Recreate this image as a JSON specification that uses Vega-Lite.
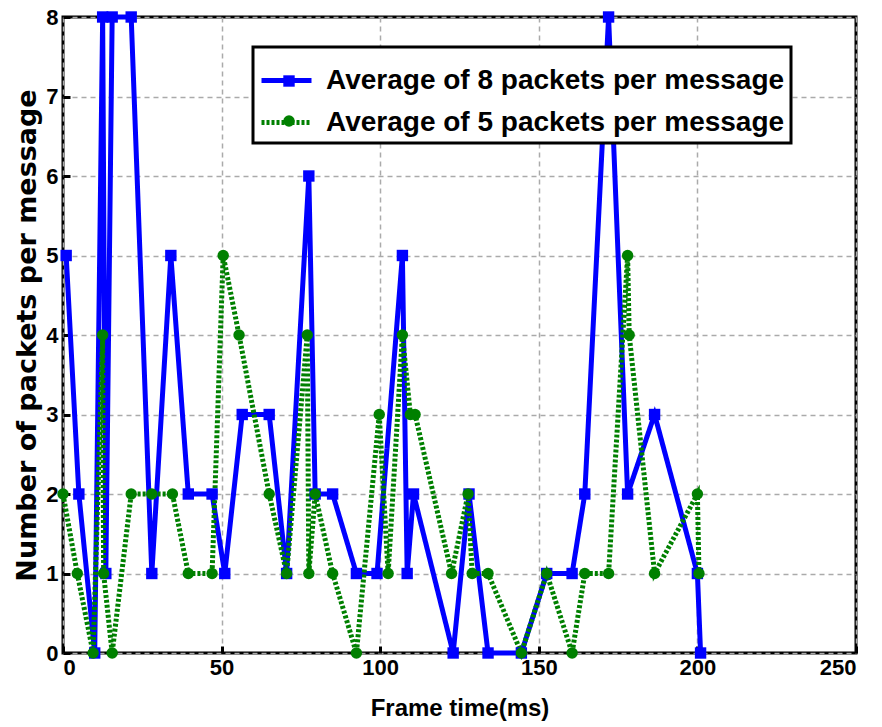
{
  "$schema": "https://vega.github.io/schema/vega-lite/v6.json",
  "autosize": "none",
  "width": 793,
  "height": 636,
  "padding": {"left": 63, "top": 17, "right": 26, "bottom": 74},
  "background": "white",
  "config": {
    "view": {"stroke": "black", "strokeWidth": 3},
    "axis": {
      "labelFont": "Liberation Sans",
      "labelFontWeight": "bold",
      "labelFontSize": 22,
      "labelColor": "black",
      "titleFont": "Liberation Sans",
      "titleFontWeight": "bold",
      "titleFontSize": 24,
      "titleColor": "black",
      "grid": true,
      "gridColor": "#aaaaaa",
      "gridDash": [5, 4],
      "gridWidth": 1.5,
      "domain": false,
      "tickColor": "black",
      "tickWidth": 3,
      "tickSize": -7
    }
  },
  "data": {
    "values": [
      {"t": 1, "n": 5, "series": "Average of 8 packets per message", "i": 1},
      {"t": 5, "n": 2, "series": "Average of 8 packets per message", "i": 2},
      {"t": 10, "n": 0, "series": "Average of 8 packets per message", "i": 3},
      {"t": 12.5, "n": 8, "series": "Average of 8 packets per message", "i": 4},
      {"t": 13.5, "n": 1, "series": "Average of 8 packets per message", "i": 5},
      {"t": 15.5, "n": 8, "series": "Average of 8 packets per message", "i": 6},
      {"t": 21.5, "n": 8, "series": "Average of 8 packets per message", "i": 7},
      {"t": 28, "n": 1, "series": "Average of 8 packets per message", "i": 8},
      {"t": 34, "n": 5, "series": "Average of 8 packets per message", "i": 9},
      {"t": 39.5, "n": 2, "series": "Average of 8 packets per message", "i": 10},
      {"t": 47, "n": 2, "series": "Average of 8 packets per message", "i": 11},
      {"t": 51, "n": 1, "series": "Average of 8 packets per message", "i": 12},
      {"t": 56.5, "n": 3, "series": "Average of 8 packets per message", "i": 13},
      {"t": 65, "n": 3, "series": "Average of 8 packets per message", "i": 14},
      {"t": 70.5, "n": 1, "series": "Average of 8 packets per message", "i": 15},
      {"t": 77.5, "n": 6, "series": "Average of 8 packets per message", "i": 16},
      {"t": 79.5, "n": 2, "series": "Average of 8 packets per message", "i": 17},
      {"t": 85, "n": 2, "series": "Average of 8 packets per message", "i": 18},
      {"t": 92.5, "n": 1, "series": "Average of 8 packets per message", "i": 19},
      {"t": 99, "n": 1, "series": "Average of 8 packets per message", "i": 20},
      {"t": 107, "n": 5, "series": "Average of 8 packets per message", "i": 21},
      {"t": 108.5, "n": 1, "series": "Average of 8 packets per message", "i": 22},
      {"t": 110.5, "n": 2, "series": "Average of 8 packets per message", "i": 23},
      {"t": 123, "n": 0, "series": "Average of 8 packets per message", "i": 24},
      {"t": 128, "n": 2, "series": "Average of 8 packets per message", "i": 25},
      {"t": 134, "n": 0, "series": "Average of 8 packets per message", "i": 26},
      {"t": 144.5, "n": 0, "series": "Average of 8 packets per message", "i": 27},
      {"t": 152.5, "n": 1, "series": "Average of 8 packets per message", "i": 28},
      {"t": 160.5, "n": 1, "series": "Average of 8 packets per message", "i": 29},
      {"t": 164.5, "n": 2, "series": "Average of 8 packets per message", "i": 30},
      {"t": 172, "n": 8, "series": "Average of 8 packets per message", "i": 31},
      {"t": 178, "n": 2, "series": "Average of 8 packets per message", "i": 32},
      {"t": 186.5, "n": 3, "series": "Average of 8 packets per message", "i": 33},
      {"t": 200, "n": 1, "series": "Average of 8 packets per message", "i": 34},
      {"t": 201, "n": 0, "series": "Average of 8 packets per message", "i": 35},
      {"t": 0, "n": 2, "series": "Average of 5 packets per message", "i": 1},
      {"t": 4.5, "n": 1, "series": "Average of 5 packets per message", "i": 2},
      {"t": 9.5, "n": 0, "series": "Average of 5 packets per message", "i": 3},
      {"t": 12.5, "n": 4, "series": "Average of 5 packets per message", "i": 4},
      {"t": 12.8, "n": 1, "series": "Average of 5 packets per message", "i": 5},
      {"t": 15.5, "n": 0, "series": "Average of 5 packets per message", "i": 6},
      {"t": 21.5, "n": 2, "series": "Average of 5 packets per message", "i": 7},
      {"t": 28, "n": 2, "series": "Average of 5 packets per message", "i": 8},
      {"t": 34.5, "n": 2, "series": "Average of 5 packets per message", "i": 9},
      {"t": 39.5, "n": 1, "series": "Average of 5 packets per message", "i": 10},
      {"t": 47, "n": 1, "series": "Average of 5 packets per message", "i": 11},
      {"t": 50.5, "n": 5, "series": "Average of 5 packets per message", "i": 12},
      {"t": 55.5, "n": 4, "series": "Average of 5 packets per message", "i": 13},
      {"t": 65, "n": 2, "series": "Average of 5 packets per message", "i": 14},
      {"t": 70.5, "n": 1, "series": "Average of 5 packets per message", "i": 15},
      {"t": 77, "n": 4, "series": "Average of 5 packets per message", "i": 16},
      {"t": 77.5, "n": 1, "series": "Average of 5 packets per message", "i": 17},
      {"t": 79.5, "n": 2, "series": "Average of 5 packets per message", "i": 18},
      {"t": 85, "n": 1, "series": "Average of 5 packets per message", "i": 19},
      {"t": 92.5, "n": 0, "series": "Average of 5 packets per message", "i": 20},
      {"t": 99.7, "n": 3, "series": "Average of 5 packets per message", "i": 21},
      {"t": 102.5, "n": 1, "series": "Average of 5 packets per message", "i": 22},
      {"t": 107, "n": 4, "series": "Average of 5 packets per message", "i": 23},
      {"t": 109.5, "n": 3, "series": "Average of 5 packets per message", "i": 24},
      {"t": 111, "n": 3, "series": "Average of 5 packets per message", "i": 25},
      {"t": 122.5, "n": 1, "series": "Average of 5 packets per message", "i": 26},
      {"t": 127.7, "n": 2, "series": "Average of 5 packets per message", "i": 27},
      {"t": 129, "n": 1, "series": "Average of 5 packets per message", "i": 28},
      {"t": 134, "n": 1, "series": "Average of 5 packets per message", "i": 29},
      {"t": 144.5, "n": 0, "series": "Average of 5 packets per message", "i": 30},
      {"t": 152.5, "n": 1, "series": "Average of 5 packets per message", "i": 31},
      {"t": 160.5, "n": 0, "series": "Average of 5 packets per message", "i": 32},
      {"t": 164.5, "n": 1, "series": "Average of 5 packets per message", "i": 33},
      {"t": 172, "n": 1, "series": "Average of 5 packets per message", "i": 34},
      {"t": 178, "n": 5, "series": "Average of 5 packets per message", "i": 35},
      {"t": 178.5, "n": 4, "series": "Average of 5 packets per message", "i": 36},
      {"t": 186.5, "n": 1, "series": "Average of 5 packets per message", "i": 37},
      {"t": 200, "n": 2, "series": "Average of 5 packets per message", "i": 38},
      {"t": 200.5, "n": 1, "series": "Average of 5 packets per message", "i": 39}
    ]
  },
  "encoding": {
    "x": {
      "field": "t", "type": "quantitative",
      "scale": {"domain": [0, 250], "nice": false, "zero": false},
      "axis": {"values": [0, 50, 100, 150, 200, 250], "title": "Frame time(ms)", "titlePadding": 18, "labelPadding": 11}
    },
    "y": {
      "field": "n", "type": "quantitative",
      "scale": {"domain": [0, 8], "nice": false},
      "axis": {"values": [0, 1, 2, 3, 4, 5, 6, 7, 8], "title": "Number of packets per message", "titleFont": "DejaVu Sans", "titleFontSize": 27, "titlePadding": 4, "labelPadding": 12}
    }
  },
  "layer": [
    {
      "mark": {"type": "line", "strokeWidth": 5},
      "encoding": {
        "order": {"field": "i", "type": "quantitative"},
        "color": {
          "field": "series", "type": "nominal",
          "scale": {"domain": ["Average of 8 packets per message", "Average of 5 packets per message"], "range": ["#0000ff", "#008000"]},
          "legend": {
            "title": null,
            "orient": "none",
            "legendX": 190,
            "legendY": 30,
            "strokeColor": "black",
            "fillColor": "white",
            "padding": 6,
            "labelFont": "Liberation Sans",
            "labelFontWeight": "bold",
            "labelFontSize": 28,
            "labelColor": "black",
            "labelLimit": 700,
            "labelOffset": 12,
            "symbolType": "stroke",
            "symbolSize": 2500,
            "symbolStrokeWidth": 5,
            "rowPadding": -8,
            "encode": {
              "legend": {"update": {"strokeWidth": {"value": 3}}}
            }
          }
        },
        "strokeDash": {
          "field": "series", "type": "nominal",
          "scale": {"domain": ["Average of 8 packets per message", "Average of 5 packets per message"], "range": [[1, 0], [3, 2]]}
        }
      }
    },
    {
      "mark": {"type": "point", "filled": true, "opacity": 1, "size": 130, "strokeWidth": 0},
      "encoding": {
        "fill": {
          "field": "series", "type": "nominal",
          "scale": {"domain": ["Average of 5 packets per message", "Average of 8 packets per message"], "range": ["#008000", "#0000ff"]},
          "legend": {
            "title": null,
            "orient": "none",
            "legendX": 212,
            "legendY": 50,
            "padding": 0,
            "values": ["Average of 8 packets per message", "Average of 5 packets per message"],
            "labelFontSize": 28,
            "labelFont": "Liberation Sans",
            "labelFontWeight": "bold",
            "labelExpr": "''",
            "labelLimit": 700,
            "labelOffset": 12,
            "symbolSize": 130,
            "symbolOpacity": 1,
            "rowPadding": 12
          }
        },
        "shape": {
          "field": "series", "type": "nominal",
          "scale": {"domain": ["Average of 5 packets per message", "Average of 8 packets per message"], "range": ["circle", "square"]}
        }
      }
    }
  ]
}
